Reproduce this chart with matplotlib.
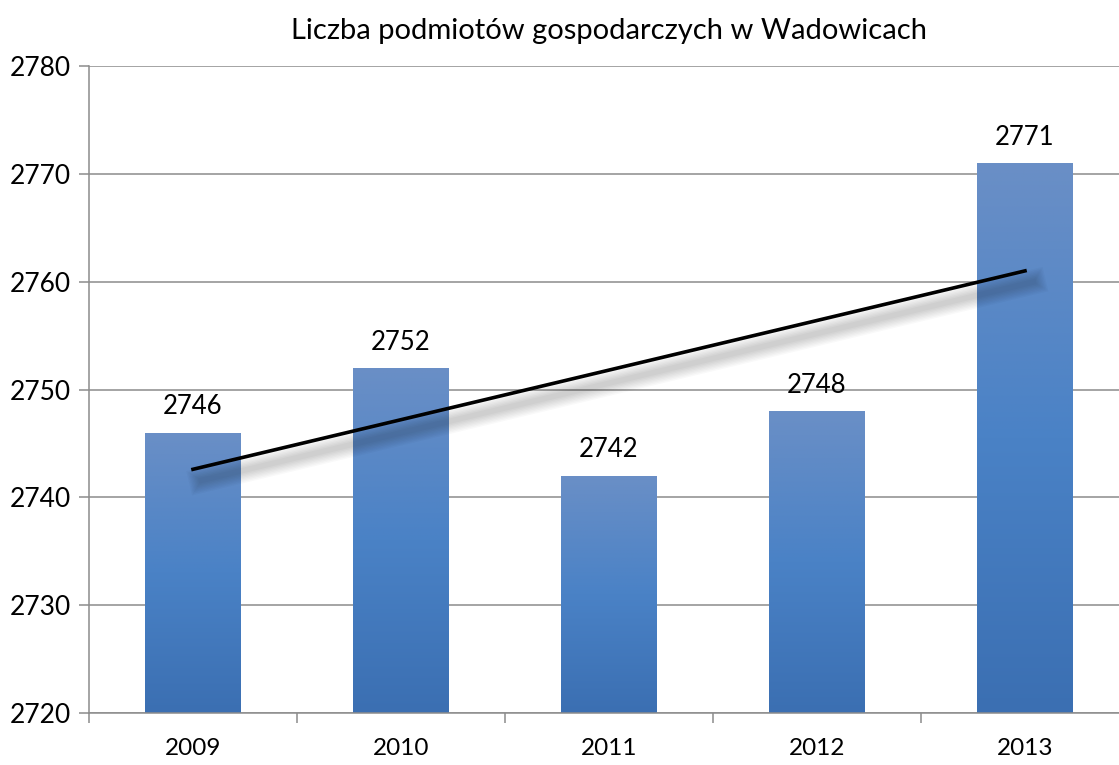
import numpy as np
import matplotlib
matplotlib.use('Agg')
import matplotlib.pyplot as plt
import matplotlib.patheffects as pe
from matplotlib.colors import LinearSegmentedColormap

# data
years = ['2009', '2010', '2011', '2012', '2013']
counts = [2746, 2752, 2742, 2748, 2771]

plt.rcParams['font.family'] = ['Lato', 'DejaVu Sans']

fig = plt.figure(figsize=(11.19, 7.65), dpi=100)
ax = fig.add_axes([89/1119, 1 - 713/765, 1040/1119, (713 - 66)/765])

x = np.arange(len(years))
ymin, ymax = 2720, 2780

# gradient bars: lighter top, darker bottom
cmap = LinearSegmentedColormap.from_list('bar', ['#3b6fb2', '#4a82c6', '#6a8fc6'])
grad = np.linspace(0, 1, 256).reshape(-1, 1)
bars = ax.bar(x, np.array(counts) - ymin, bottom=ymin, width=0.46,
              facecolor='none', edgecolor='none', zorder=2)
for b, v in zip(bars, counts):
    im = ax.imshow(grad, cmap=cmap, origin='lower', aspect='auto',
                   extent=[b.get_x(), b.get_x() + b.get_width(), ymin, v], zorder=2)
    im.set_clip_path(b)
    ax.text(b.get_x() + b.get_width() / 2, v + 2.4, str(v), ha='center', va='center',
            fontsize=18.5, color='black')
ax.set_xlim(-0.5, len(years) - 0.5)
ax.set_ylim(ymin, ymax)

# linear trend line with soft shadow
k, c = np.polyfit(x, counts, 1)
xt = np.array([0, len(years) - 1])
shadow = [pe.SimpleLineShadow(offset=(6, -8), shadow_color='#000000', alpha=0.025, linewidth=w)
          for w in range(18, 2, -2)]
ax.plot(xt, k * xt + c, color='black', linewidth=2.6, zorder=4,
        path_effects=shadow + [pe.Normal()])

# grid and axes
ax.set_yticks(np.arange(ymin, ymax + 1, 10))
ax.yaxis.grid(True, color='#8c8c8c', linewidth=1.1, zorder=0)
ax.set_axisbelow(True)
ax.set_xticks(np.arange(-0.5, len(years)), minor=False)
ax.set_xticklabels([])
ax.set_xticks(x, minor=True)
ax.set_xticklabels(years, minor=True)
ax.tick_params(axis='x', which='major', length=7, color='#8c8c8c', width=1.1)
ax.tick_params(axis='x', which='minor', length=0, pad=18, labelsize=17.5)
ax.tick_params(axis='y', length=7, color='#8c8c8c', width=1.1, labelsize=19, pad=6)
for s in ['top', 'right']:
    ax.spines[s].set_visible(False)
for s in ['left', 'bottom']:
    ax.spines[s].set_color('#8c8c8c')
    ax.spines[s].set_linewidth(1.1)

fig.text(609/1119, 1 - 31/765, 'Liczba podmiotów gospodarczych w Wadowicach',
         ha='center', va='center', fontsize=21)

fig.savefig('out.png', dpi=100)
